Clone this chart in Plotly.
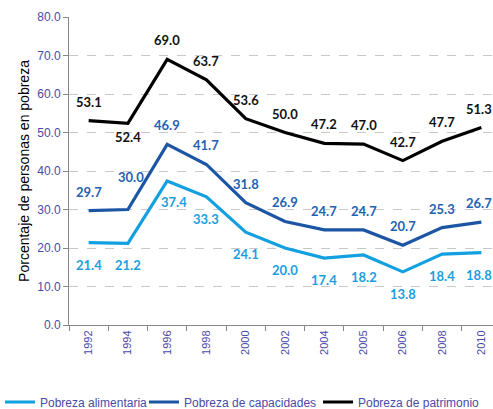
import plotly.graph_objects as go

years = ["1992", "1994", "1996", "1998", "2000", "2002", "2004", "2005", "2006", "2008", "2010"]
alimentaria = [21.4, 21.2, 37.4, 33.3, 24.1, 20.0, 17.4, 18.2, 13.8, 18.4, 18.8]
capacidades = [29.7, 30.0, 46.9, 41.7, 31.8, 26.9, 24.7, 24.7, 20.7, 25.3, 26.7]
patrimonio = [53.1, 52.4, 69.0, 63.7, 53.6, 50.0, 47.2, 47.0, 42.7, 47.7, 51.3]

series = [
    ("Pobreza alimentaria", alimentaria, "#12A0E0", "#1AA0E0", "legend"),
    ("Pobreza de capacidades", capacidades, "#1B55A3", "#2462B3", "legend2"),
    ("Pobreza de patrimonio", patrimonio, "#000000", "#111111", "legend3"),
]

# label offsets (pixels): default per series, with a few exceptions
default_shift = {"Pobreza alimentaria": -22, "Pobreza de capacidades": 19, "Pobreza de patrimonio": 19}
shift_exceptions = {
    ("Pobreza de patrimonio", "1994"): (0, -14),
    ("Pobreza de capacidades", "1994"): (3, 33),
    ("Pobreza alimentaria", "1996"): (7, -21),
}

W, H = 493, 409

fig = go.Figure()
annotations = []
for name, vals, lc, tc, lg in series:
    fig.add_trace(go.Scatter(x=years, y=vals, mode="lines", name=name, legend=lg,
                             line=dict(color=lc, width=3.2)))
    for i, (yr, v) in enumerate(zip(years, vals)):
        xs, ys = shift_exceptions.get((name, yr), (0, default_shift[name]))
        if i == len(years) - 1:
            xs -= 2
        annotations.append(dict(x=i, y=v, xref="x", yref="y", text=f"{v:.1f}",
                                showarrow=False, xshift=xs, yshift=ys,
                                xanchor="center", yanchor="middle",
                                font=dict(family="Lato", size=13, color=tc, weight="bold")))

axis_text = "#4A4AA8"
legend_common = dict(orientation="h", xref="container", yref="container",
                     xanchor="left", yanchor="middle", y=7 / H,
                     font=dict(family="Liberation Sans", size=12, color=axis_text),
                     itemwidth=30, bgcolor="rgba(0,0,0,0)")

fig.update_layout(
    width=W, height=H,
    margin=dict(l=69, r=0, t=17, b=84),
    paper_bgcolor="white", plot_bgcolor="white",
    annotations=annotations,
    showlegend=True,
    legend=dict(x=0.0, **legend_common),
    legend2=dict(x=144 / W, **legend_common),
    legend3=dict(x=318 / W, **legend_common),
    xaxis=dict(type="category", range=[-0.5, 10.296], tickangle=-90, automargin=False,
               tickson="boundaries", ticks="outside", ticklen=5, tickcolor="#888888",
               showline=True, linecolor="#888888", linewidth=1, showgrid=False,
               tickfont=dict(family="Liberation Sans", size=11, color=axis_text)),
    yaxis=dict(range=[0, 80], dtick=10, tickformat=".1f", automargin=False,
               ticks="outside", ticklen=5, tickcolor="#888888",
               showline=True, linecolor="#888888", linewidth=1,
               showgrid=True, gridcolor="#C8C8C8", griddash="dash", gridwidth=1,
               zeroline=False,
               tickfont=dict(family="Liberation Sans", size=12, color=axis_text),
               title=dict(text="Porcentaje de personas en pobreza",
                          font=dict(family="Liberation Sans", size=14, color="#000000"),
                          standoff=4)),
)

fig.write_html("out.html", config={"displayModeBar": False},
               post_script="document.body.style.margin='0';document.body.style.overflow='hidden';")
